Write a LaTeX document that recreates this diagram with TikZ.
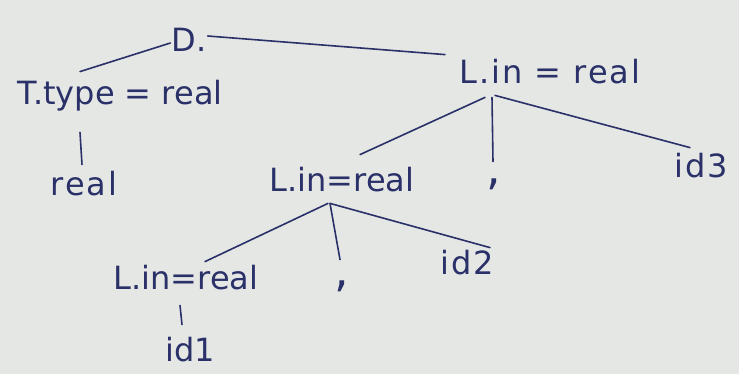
\documentclass[tikz,border=0pt]{standalone}
\usepackage{fontspec}
\setmainfont{DejaVu Sans}
\usetikzlibrary{positioning}
\definecolor{board}{RGB}{229,231,229}
\definecolor{ink}{RGB}{42,48,104}

\begin{document}
\begin{tikzpicture}[x=1pt,y=-1pt,
  lbl/.style={text=ink, font=\fontsize{32}{34}\selectfont, inner sep=1pt,
    text height=24pt, text depth=6.4pt},
  wide/.style={lbl, font=\fontsize{32}{34}\selectfont\addfontfeature{LetterSpace=6}},
  punct/.style={lbl, font=\fontsize{46}{48}\selectfont},
  edge/.style={draw=ink, line width=1.6pt, line cap=round}]
\fill[board] (0,0) rectangle (739,374);

% annotated parse tree
\node[lbl] (D) at (189,43) {D.};
\node[lbl] (ttype) at (120,96) {T.type = real};
\node[wide] (real) at (84,187) {real};
\node[wide] (Ltop) at (550,75) {L.in = real};
\node[punct] (comma1) at (494,176) {,};
\node[wide] (id3) at (701,169) {id3};
\node[lbl] (Lmid) at (342,183) {L.in=real};
\node[punct] (comma2) at (342,278) {,};
\node[wide] (id2) at (467,266) {id2};
\node[lbl] (Lbot) at (186,281) {L.in=real};
\node[lbl] (id1) at (190,353) {id1};

\draw[edge] (D.west) -- ([xshift=-40pt,yshift=8pt]ttype.north);
\draw[edge] ([yshift=7pt]D.east) -- ([xshift=-105pt,yshift=4pt]Ltop.north);
\draw[edge] ([xshift=-40pt,yshift=-20pt]ttype.south) -- ([xshift=-2pt,yshift=6pt]real.north);
\draw[edge] ([xshift=-65pt,yshift=-6pt]Ltop.south) -- ([xshift=18pt,yshift=12pt]Lmid.north);
\draw[edge] ([xshift=-58pt,yshift=-6pt]Ltop.south) -- ([xshift=-1pt,yshift=-2pt]comma1.north);
\draw[edge] ([xshift=-55pt,yshift=-4pt]Ltop.south) -- ([xshift=-11pt,yshift=5pt]id3.north);
\draw[edge] ([xshift=-14pt,yshift=-4pt]Lmid.south) -- ([xshift=19pt,yshift=3pt]Lbot.north);
\draw[edge] ([xshift=-12pt,yshift=-4pt]Lmid.south) -- ([xshift=-2pt,yshift=2pt]comma2.north);
\draw[edge] ([xshift=-12pt,yshift=-4pt]Lmid.south) -- ([xshift=23pt,yshift=2pt]id2.north);
\draw[edge] ([xshift=-6pt,yshift=-8pt]Lbot.south) -- ([xshift=-8pt,yshift=12pt]id1.north);
\end{tikzpicture}
\end{document}
